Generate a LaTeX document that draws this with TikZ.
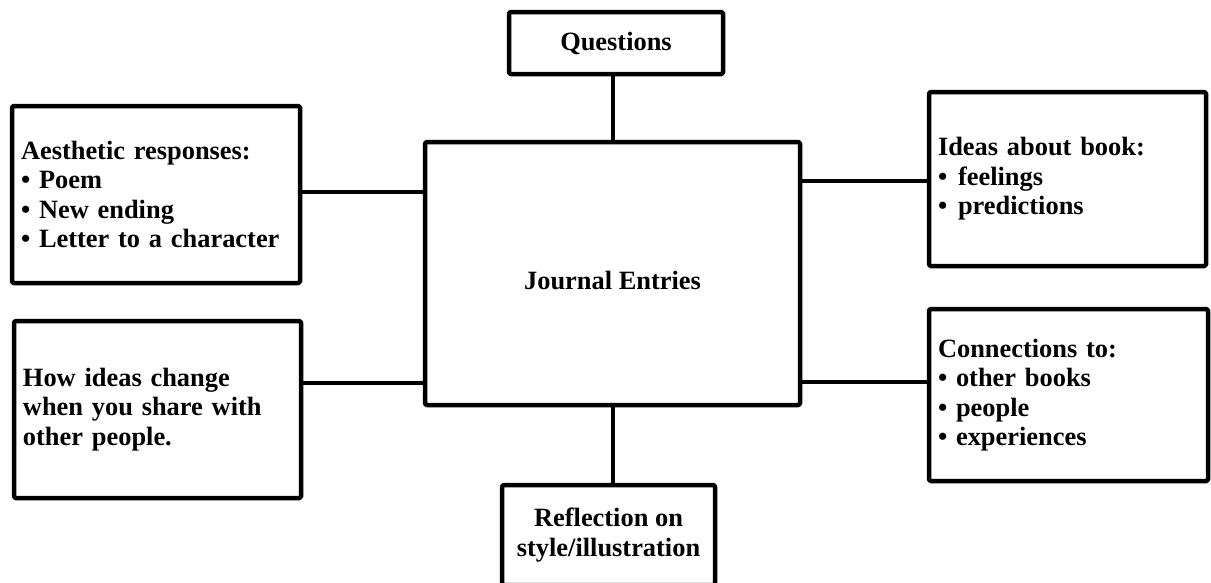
\documentclass[tikz,border=0pt]{standalone}
\usepackage{fontspec}
\setmainfont{Liberation Serif}
\begin{document}
\begin{tikzpicture}[x=1pt,y=-1pt,
  box/.style={draw, line width=4.5pt, line join=round, rounded corners=1.5pt, inner ysep=0pt,
    font=\bfseries\fontsize{26.4}{29.5}\selectfont},
  listbox/.style={box, align=left, inner xsep=9pt},
  centrebox/.style={box, align=center, inner xsep=0pt},
  link/.style={line width=4pt}]
\useasboundingbox (0,0) rectangle (1211,582);

\node[listbox, text width=270pt, minimum height=177pt] (aes) at (156,194.5)
  {Aesthetic responses:\\• Poem\\• New ending\\• Letter to a character};
\node[listbox, text width=269pt, minimum height=177pt] (how) at (157.5,409.5)
  {How ideas change\\when you share with\\other people.};
\node[listbox, text width=259pt, minimum height=174pt] (ideas) at (1067.5,179)
  {Ideas about book:\\•\hspace{10.8pt}feelings\\•\hspace{10.8pt}predictions};
\node[listbox, text width=261pt, minimum height=172pt] (conn) at (1068.5,395)
  {Connections to:\\• other books\\• people\\• experiences};
\node[centrebox, minimum width=375pt, minimum height=263pt] (j) at (612.5,273.5)
  {\raisebox{-7pt}[\height][\depth]{Journal Entries}};
\node[centrebox, minimum width=214pt, minimum height=62pt] (q) at (616,43) {Questions};
\node[centrebox, minimum width=213pt, minimum height=100pt] (r) at (608.5,535)
  {Reflection on\\style/illustration};

\draw[link] (q.south -| j.north) -- (j.north);
\draw[link] (j.south) -- (j.south |- r.north);
\draw[link] (aes.east |- 0,192) -- (j.west |- 0,192);
\draw[link] (how.east |- 0,383) -- (j.west |- 0,383);
\draw[link] (j.east |- 0,181) -- (ideas.west |- 0,181);
\draw[link] (j.east |- 0,382) -- (conn.west |- 0,382);
\end{tikzpicture}
\end{document}
